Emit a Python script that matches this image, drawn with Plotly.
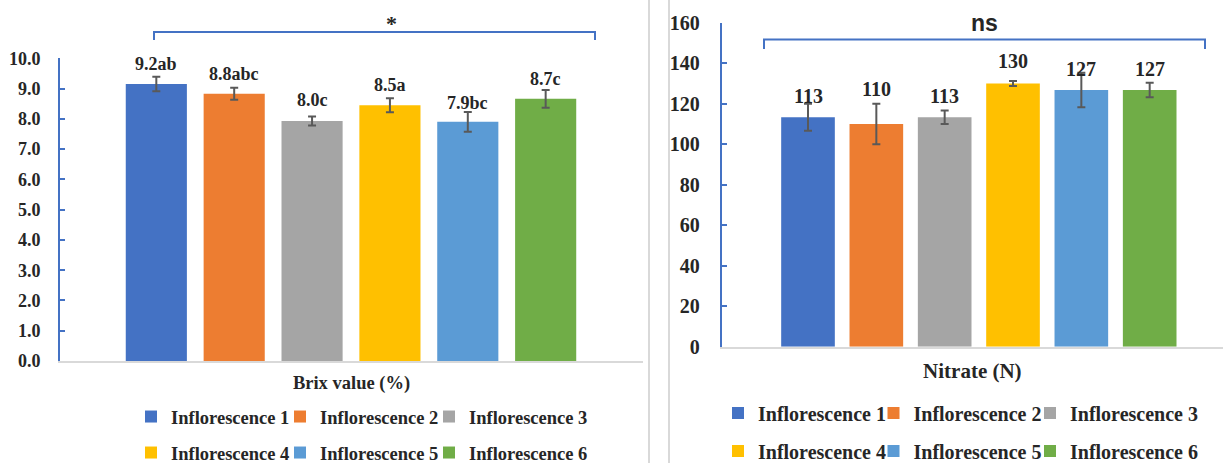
import plotly.graph_objects as go

W, H = 1223, 463

series = ["Inflorescence 1", "Inflorescence 2", "Inflorescence 3",
          "Inflorescence 4", "Inflorescence 5", "Inflorescence 6"]
colors = ["#4472C4", "#ED7D31", "#A5A5A5", "#FFC000", "#5B9BD5", "#70AD47"]

brix_values = [9.15, 8.83, 7.93, 8.45, 7.90, 8.66]
brix_errors = [0.24, 0.20, 0.15, 0.23, 0.33, 0.29]
brix_labels = ["9.2ab", "8.8abc", "8.0c", "8.5a", "7.9bc", "8.7c"]

nitrate_values = [113.3, 110.0, 113.3, 130.0, 126.8, 126.8]
nitrate_errors = [6.7, 10.0, 3.3, 1.2, 8.5, 3.6]
nitrate_labels = ["113", "110", "113", "130", "127", "127"]

brix_title = "Brix value (%)"
nitrate_title = "Nitrate (N)"
brix_sig = "*"
nitrate_sig = "ns"

SERIF = "Liberation Serif, Times New Roman, serif"
SANS = "Liberation Sans, Arial, sans-serif"
TXT = "#262626"
AXIS_BLUE = "#4472C4"
GRID_GRAY = "#D9D9D9"
ERR_GRAY = "#595959"

brix_label_shift = [20, 20, 21, 20, 19, 20]
nitrate_label_shift = [21, 35, 21, 22, 21, 21]

# legend entry positions (text start x, row centre y) in pixels
left_leg_x = [166, 315, 464]
left_leg_y = [417, 453]
right_leg_x = [751, 906.5, 1063]
right_leg_y = [413, 451]
TEXT_GAP_L = 35
TEXT_GAP_R = 33


def px(x):
    return x / W


def py(y):
    return (H - y) / H


fig = go.Figure()

legends = {}
for i, name in enumerate(series):
    k = i + 1
    key = "legend" if k == 1 else f"legend{k}"
    legends[key] = dict(
        x=px(left_leg_x[i % 3] - TEXT_GAP_L), y=py(left_leg_y[i // 3]),
        xanchor="left", yanchor="middle", orientation="h",
        bgcolor="rgba(0,0,0,0)", itemwidth=30,
        font=dict(family=SERIF, size=18.5, color=TXT, weight="bold"))
    fig.add_trace(go.Bar(
        x=[name], y=[brix_values[i]], name=name,
        marker=dict(color=colors[i], line=dict(width=0)),
        error_y=dict(type="data", array=[brix_errors[i]], color=ERR_GRAY,
                     thickness=2, width=4),
        xaxis="x", yaxis="y", legend=key,
    ))
for i, name in enumerate(series):
    k = i + 7
    key = f"legend{k}"
    legends[key] = dict(
        x=px(right_leg_x[i % 3] - TEXT_GAP_R), y=py(right_leg_y[i // 3]),
        xanchor="left", yanchor="middle", orientation="h",
        bgcolor="rgba(0,0,0,0)", itemwidth=30,
        font=dict(family=SERIF, size=20, color=TXT, weight="bold"))
    fig.add_trace(go.Bar(
        x=[name], y=[nitrate_values[i]], name=name,
        marker=dict(color=colors[i], line=dict(width=0)),
        error_y=dict(type="data", array=[nitrate_errors[i]], color=ERR_GRAY,
                     thickness=2, width=4),
        xaxis="x2", yaxis="y2", legend=key,
    ))

annotations = []
for i, name in enumerate(series):
    annotations.append(dict(
        x=name, y=brix_values[i], xref="x", yref="y", text=brix_labels[i],
        showarrow=False, yanchor="middle", yshift=brix_label_shift[i],
        font=dict(family=SERIF, size=18, color=TXT, weight="bold")))
    annotations.append(dict(
        x=name, y=nitrate_values[i], xref="x2", yref="y2", text=nitrate_labels[i],
        showarrow=False, yanchor="middle", yshift=nitrate_label_shift[i],
        font=dict(family=SERIF, size=20, color=TXT, weight="bold")))

annotations.append(dict(x=px(384), y=py(24), xref="paper", yref="paper",
                        text=brix_sig, showarrow=False, yanchor="middle",
                        font=dict(family=SERIF, size=22, color=TXT, weight="bold")))
annotations.append(dict(x=px(1000), y=py(23), xref="paper", yref="paper",
                        text=nitrate_sig, showarrow=False, yanchor="middle",
                        font=dict(family=SANS, size=23, color=TXT, weight="bold")))

shapes = [
    dict(type="path", xref="paper", yref="paper",
         path=f"M {px(154)} {py(40)} L {px(154)} {py(32)} L {px(595)} {py(32)} L {px(595)} {py(40)}",
         line=dict(color=AXIS_BLUE, width=2)),
    dict(type="path", xref="paper", yref="paper",
         path=f"M {px(764)} {py(49)} L {px(764)} {py(39.5)} L {px(1205)} {py(39.5)} L {px(1205)} {py(49)}",
         line=dict(color=AXIS_BLUE, width=2)),
    dict(type="line", xref="paper", yref="paper", x0=px(649), x1=px(649), y0=0, y1=1,
         line=dict(color=GRID_GRAY, width=2)),
    dict(type="line", xref="paper", yref="paper", x0=px(669), x1=px(669), y0=0, y1=1,
         line=dict(color=GRID_GRAY, width=2)),
]

fig.update_layout(
    width=W, height=H,
    margin=dict(l=0, r=0, t=0, b=0, autoexpand=False),
    paper_bgcolor="white", plot_bgcolor="white",
    barmode="overlay", bargap=0.215,
    showlegend=True, hovermode=False,
    xaxis=dict(domain=[px(60), px(643)], range=[-1.237, 6.25],
               showticklabels=False, ticks="", showgrid=False, zeroline=False,
               showline=True, linecolor=GRID_GRAY, linewidth=2,
               title=dict(text=brix_title, standoff=14,
                          font=dict(family=SERIF, size=18.5, color=TXT, weight="bold"))),
    yaxis=dict(domain=[py(361), py(58.3)], range=[0, 10], dtick=1, tickformat=".1f",
               ticks="inside", ticklen=5, tickwidth=2, tickcolor=AXIS_BLUE,
               showline=True, linecolor=AXIS_BLUE, linewidth=2,
               showgrid=False, zeroline=False, ticklabelstandoff=14,
               tickfont=dict(family=SERIF, size=18, color=TXT, weight="bold")),
    xaxis2=dict(domain=[px(721.7), 1.0], range=[-1.263, 6.073], anchor="y2",
                showticklabels=False, ticks="", showgrid=False, zeroline=False,
                showline=True, linecolor=GRID_GRAY, linewidth=2,
                title=dict(text=nitrate_title, standoff=16,
                           font=dict(family=SERIF, size=21, color=TXT, weight="bold"))),
    yaxis2=dict(domain=[py(346.7), py(22.7)], range=[0, 160], dtick=20, anchor="x2",
                ticks="inside", ticklen=5, tickwidth=2, tickcolor=AXIS_BLUE,
                showline=True, linecolor=AXIS_BLUE, linewidth=2,
                showgrid=False, zeroline=False, ticklabelstandoff=16,
                tickfont=dict(family=SERIF, size=20, color=TXT, weight="bold")),
    annotations=annotations,
    shapes=shapes,
    **legends,
)

fig.write_html("out.html", config={"displayModeBar": False},
               post_script="document.body.style.margin='0';")
